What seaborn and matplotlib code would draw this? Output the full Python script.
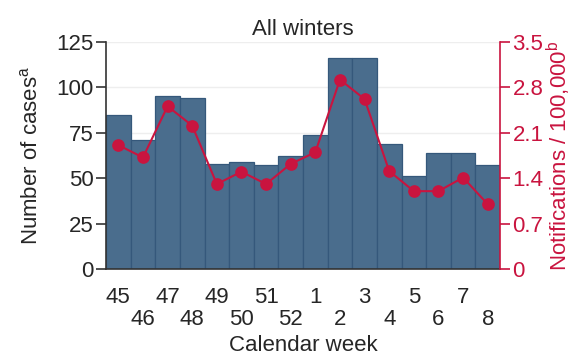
import numpy as np
import pandas as pd
import seaborn as sns
import matplotlib.pyplot as plt

# Data
weeks = ["45", "46", "47", "48", "49", "50", "51", "52",
         "1", "2", "3", "4", "5", "6", "7", "8"]
cases = [85, 71, 95, 94, 58, 59, 57, 62, 74, 116, 116, 69, 51, 64, 64, 57]
rate = [1.91, 1.72, 2.51, 2.21, 1.31, 1.50, 1.31, 1.62,
        1.80, 2.92, 2.62, 1.51, 1.20, 1.20, 1.41, 1.00]

bar_color = "#4a6d8d"
line_color = "#c9143f"
fs = 16

sns.set_style("white")
plt.rcParams['font.family'] = ['Liberation Sans', 'DejaVu Sans']

df = pd.DataFrame({"week": weeks, "cases": cases, "rate": rate})

fig = plt.figure(figsize=(5.74, 3.58), dpi=100)
ax = fig.add_axes([0.1847, 0.2486, 0.6864, 0.6341])

sns.barplot(data=df, x="week", y="cases", order=weeks, color=bar_color,
            saturation=1, width=1.0, edgecolor="#35587b", linewidth=0.9, ax=ax)
ax.set_ylim(0, 125)
ax.set_yticks([0, 25, 50, 75, 100, 125])
ax.yaxis.grid(True, color="#eeeeee", linewidth=1)
ax.set_axisbelow(True)
ax.set_xlim(-0.5, len(weeks) - 0.5)

# staggered week labels
labels = [w if i % 2 == 0 else "\n" + w for i, w in enumerate(weeks)]
ax.set_xticks(range(len(weeks)))
ax.set_xticklabels(labels, fontsize=fs, linespacing=1.08)
ax.tick_params(axis="x", length=8, width=1.2, color="#333333", pad=5)
ax.tick_params(axis="y", length=7, width=1.2, color="#333333", labelsize=fs, pad=2)
ax.set_xlabel("Calendar week", fontsize=fs, labelpad=3)
ax.set_ylabel("Number of cases$^{\\mathregular{a}}$", fontsize=fs, labelpad=10)
ax.set_title("All winters", fontsize=fs, pad=5)
for s in ["top", "right"]:
    ax.spines[s].set_visible(False)
for s in ["left", "bottom"]:
    ax.spines[s].set_color("#333333")
    ax.spines[s].set_linewidth(1.2)

ax2 = ax.twinx()
sns.pointplot(data=df, x="week", y="rate", order=weeks, color=line_color,
              markersize=8, linewidth=1.5, ax=ax2)
ax2.set_ylim(0, 3.5)
ax2.set_yticks([0, 0.7, 1.4, 2.1, 2.8, 3.5])
ax2.set_yticklabels(["0", "0.7", "1.4", "2.1", "2.8", "3.5"])
ax2.tick_params(axis="y", length=7, width=1.2, color=line_color,
                labelcolor=line_color, labelsize=fs, pad=2)
ax2.set_ylabel("Notifications / 100,000$^{\\mathregular{b}}$", fontsize=fs,
               color=line_color, labelpad=1)
ax2.set_xlim(-0.5, len(weeks) - 0.5)
for s in ["top", "left", "bottom"]:
    ax2.spines[s].set_visible(False)
ax2.spines["right"].set_color(line_color)
ax2.spines["right"].set_linewidth(1.2)

fig.savefig("out.png", dpi=100)
